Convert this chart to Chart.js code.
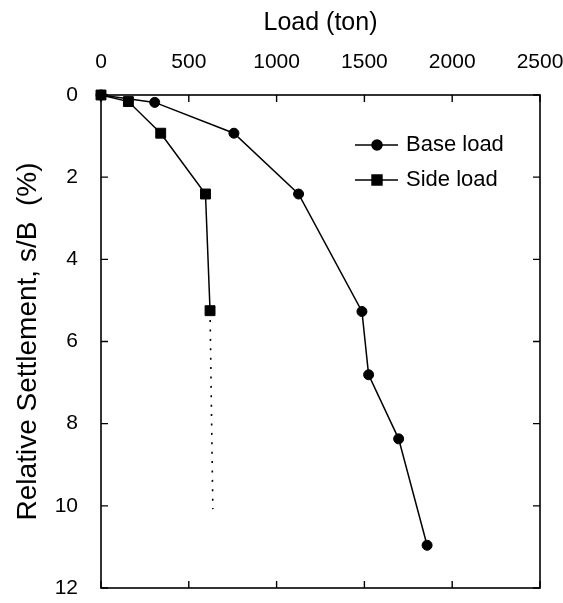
<!DOCTYPE html>
<html>
<head>
<meta charset="utf-8">
<script src="https://cdn.jsdelivr.net/npm/chart.js@4/dist/chart.umd.min.js"></script>
<style>
  html, body { margin: 0; padding: 0; background: #fff; }
  #wrap { width: 563px; height: 603px; }
</style>
</head>
<body>
<div id="wrap"><canvas id="c" width="563" height="603"></canvas></div>
<script>
// ---- data ----
const baseLoad = [0, 306, 757, 1125, 1486, 1524, 1695, 1857];
const baseSettlement = [0, 0.18, 0.93, 2.41, 5.27, 6.81, 8.37, 10.96];
const sideLoad = [0, 156, 340, 595, 621];
const sideSettlement = [0, 0.16, 0.93, 2.41, 5.25];
const sideExtLoad = [621, 637];
const sideExtSettlement = [5.25, 10.08];
const xTicks = [0, 500, 1000, 1500, 2000, 2500];
const yTicks = [0, 2, 4, 6, 8, 10, 12];
const seriesNames = ['Base load', 'Side load'];

const FONT = '"Liberation Sans", Arial, Helvetica, sans-serif';

function pts(xs, ys) { return xs.map((x, i) => ({ x: x, y: ys[i] })); }

const framePlugin = {
  id: 'frame',
  beforeDatasetsDraw(chart) {
    const { ctx, chartArea: a, scales } = chart;
    const xs = scales.x, ys = scales.y;
    const tl = 7;
    ctx.save();
    ctx.strokeStyle = '#000';
    ctx.lineWidth = 1.6;
    ctx.strokeRect(a.left, a.top, a.right - a.left, a.bottom - a.top);
    ctx.lineWidth = 1.4;
    ctx.beginPath();
    xTicks.forEach(v => {
      const px = xs.getPixelForValue(v);
      ctx.moveTo(px, a.top); ctx.lineTo(px, a.top + tl);
      ctx.moveTo(px, a.bottom); ctx.lineTo(px, a.bottom - tl);
    });
    yTicks.forEach(v => {
      const py = ys.getPixelForValue(v);
      ctx.moveTo(a.left, py); ctx.lineTo(a.left + tl, py);
      ctx.moveTo(a.right, py); ctx.lineTo(a.right - tl, py);
    });
    ctx.stroke();
    ctx.restore();
  },
  afterDraw(chart) {
    const { ctx, chartArea: a } = chart;
    ctx.save();
    const rows = [
      { ds: chart.data.datasets[0], y: a.top + 50 },
      { ds: chart.data.datasets[1], y: a.top + 85 }
    ];
    rows.forEach(r => {
      const x0 = a.left + 254, x1 = a.left + 297, xm = a.left + 276;
      ctx.strokeStyle = '#000';
      ctx.lineWidth = 1.5;
      ctx.beginPath(); ctx.moveTo(x0, r.y); ctx.lineTo(x1, r.y); ctx.stroke();
      ctx.fillStyle = '#000';
      Chart.helpers.drawPoint(ctx, {
        pointStyle: r.ds.pointStyle,
        radius: r.ds.pointRadius,
        borderWidth: 1
      }, xm, r.y);
      ctx.font = '22px ' + FONT;
      ctx.textBaseline = 'middle';
      ctx.textAlign = 'left';
      ctx.fillText(r.ds.label, a.left + 305, r.y);
    });
    ctx.restore();
  }
};

new Chart(document.getElementById('c'), {
  type: 'scatter',
  data: {
    datasets: [
      {
        label: seriesNames[0],
        data: pts(baseLoad, baseSettlement),
        showLine: true,
        borderColor: '#000',
        backgroundColor: '#000',
        borderWidth: 1.5,
        pointStyle: 'circle',
        pointRadius: 5,
        pointBorderWidth: 1,
        clip: false
      },
      {
        label: seriesNames[1],
        data: pts(sideLoad, sideSettlement),
        showLine: true,
        borderColor: '#000',
        backgroundColor: '#000',
        borderWidth: 1.5,
        pointStyle: 'rect',
        pointRadius: 7,
        pointBorderWidth: 1,
        clip: false
      },
      {
        label: 'Side load (extrapolated)',
        data: pts(sideExtLoad, sideExtSettlement),
        showLine: true,
        borderColor: '#000',
        borderWidth: 1.6,
        borderDash: [2, 7.4],
        pointRadius: 0,
        clip: false
      }
    ]
  },
  options: {
    responsive: false,
    animation: false,
    events: [],
    layout: { padding: { left: 0, top: 0, right: 23, bottom: 15 } },
    plugins: { legend: { display: false }, tooltip: { enabled: false } },
    scales: {
      x: {
        type: 'linear',
        position: 'top',
        min: 0, max: 2500,
        afterBuildTicks(s) { s.ticks = xTicks.map(v => ({ value: v })); },
        afterFit(s) { s.height = 95; s.paddingLeft = 0; s.paddingRight = 0; },
        grid: { display: false },
        border: { display: false },
        ticks: { color: '#000', font: { family: FONT, size: 21 }, padding: 12, maxRotation: 0,
                 callback: v => String(v) },
        title: { display: true, text: 'Load (ton)', color: '#000', font: { family: FONT, size: 25 }, padding: { top: 8, bottom: 0 } }
      },
      y: {
        type: 'linear',
        reverse: true,
        min: 0, max: 12,
        afterBuildTicks(s) { s.ticks = yTicks.map(v => ({ value: v })); },
        afterFit(s) { s.width = 101; s.paddingTop = 0; s.paddingBottom = 0; },
        grid: { display: false },
        border: { display: false },
        ticks: { color: '#000', font: { family: FONT, size: 21 }, padding: 15,
                 callback: v => String(v) },
        title: { display: true, text: 'Relative Settlement, s/B  (%)', color: '#000', font: { family: FONT, size: 28 }, padding: { top: 11, bottom: 0 } }
      }
    }
  },
  plugins: [framePlugin]
});
</script>
</body>
</html>
